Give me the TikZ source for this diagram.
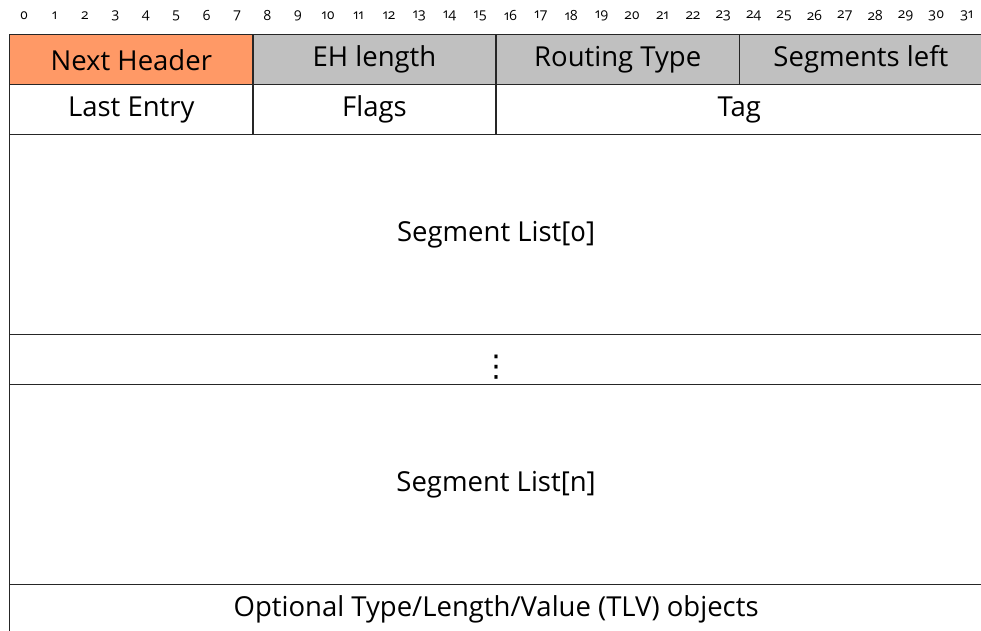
\documentclass[tikz,border=0pt]{standalone}
\usepackage{fontspec}
\setmainfont[Numbers=OldStyle]{Open Sans}
\newfontfamily\symfont{DejaVu Sans}
\usepackage{tikz}
\usetikzlibrary{positioning}

\definecolor{nhorange}{RGB}{255,153,102}
\definecolor{fieldgray}{RGB}{192,192,192}

\newcommand{\bitw}{30.4pt}
\newcommand{\wordh}{50pt}

\begin{document}
\begin{tikzpicture}[%
    x=\bitw,
    y=-\wordh,
    field/.style={draw=black!85, line width=1.4pt, inner sep=0pt,
                  anchor=north west, font=\fontsize{27.5}{30}\selectfont,
                  minimum width=#1*\bitw, minimum height=\wordh},
    field/.default=32,
    tall/.style={minimum height=4*\wordh},
    bitnum/.style={font=\fontsize{14}{16}\selectfont, inner sep=0pt}
    ]
    \clip (-9pt,34pt) rectangle (972pt,-596pt);
    \useasboundingbox (-9pt,34pt) rectangle (972pt,-596pt);

    % bit positions
    \foreach \i in {0,...,31}
        \node[bitnum] (b\i) at (\i+0.5,-0.37) {\i};

    % first word
    \node[field=8, fill=nhorange] (nexthdr) at (0,0) {Next Header};
    \node[field=8, fill=fieldgray] (ehlen) at (8,0) {EH length};
    \node[field=8, fill=fieldgray] (rtype) at (16,0) {Routing Type};
    \node[field=8, fill=fieldgray] (segleft) at (24,0) {Segments left};

    % second word
    \node[field=8] (lastentry) at (0,1) {Last Entry};
    \node[field=8] (flags) at (8,1) {Flags};
    \node[field=16] (tag) at (16,1) {Tag};

    % segments
    \node[field, tall] (seg0) at (0,2) {Segment List[0]};
    \node[field] (dots) at (0,6) {};
    \node[font=\symfont\fontsize{30}{32}\selectfont, inner sep=0pt]
        (vdots) at ([yshift=-7pt]dots.center) {⋮};
    \node[field, tall] (segn) at (0,7) {Segment List[n]};

    \node[field] (tlv) at (0,11) {Optional Type/Length/Value (TLV) objects};

\end{tikzpicture}
\end{document}
